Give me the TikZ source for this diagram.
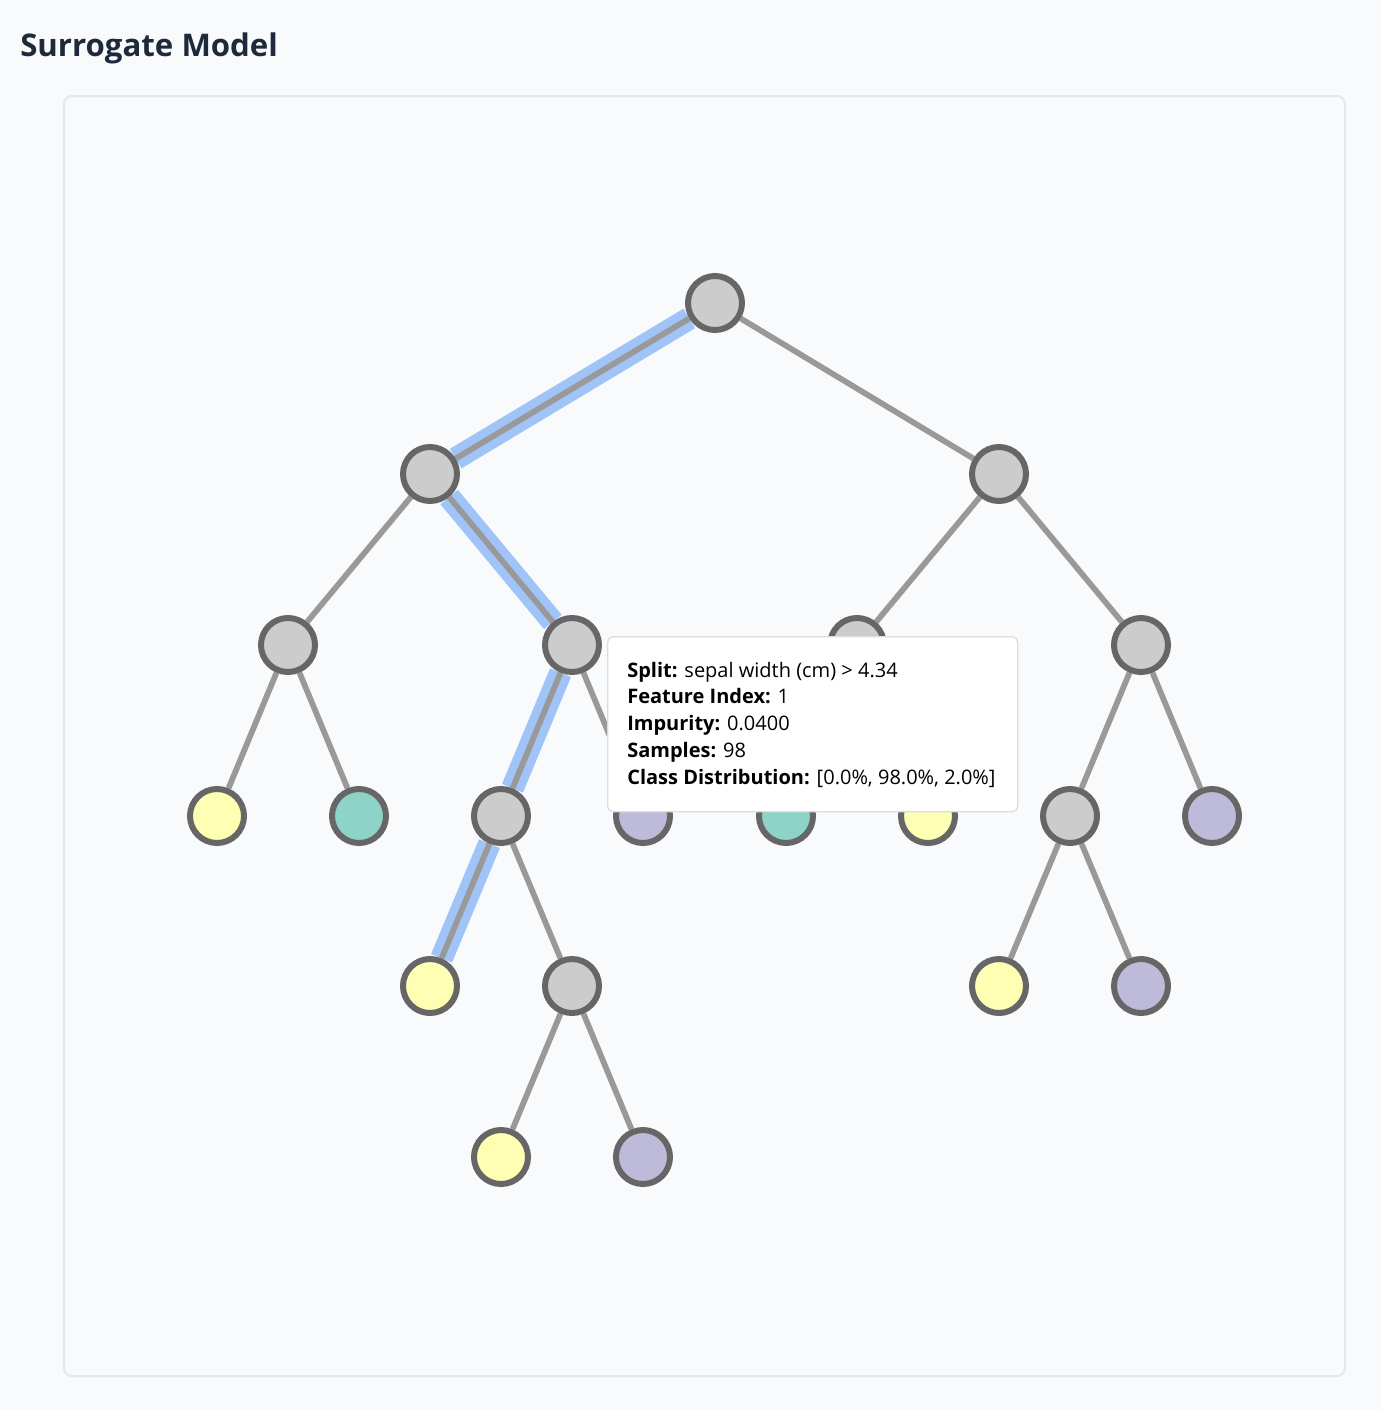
\documentclass[tikz,border=0pt]{standalone}
\usepackage{fontspec}
\setmainfont{Open Sans}
\usetikzlibrary{backgrounds}

\definecolor{pagebg}{HTML}{F8FAFC}
\definecolor{panelline}{HTML}{E2E8F0}
\definecolor{titlecol}{HTML}{1E293B}
\definecolor{splitfill}{HTML}{CCCCCC}
\definecolor{nodeline}{HTML}{666666}
\definecolor{branchcol}{HTML}{999999}
\definecolor{pathcol}{HTML}{A0C4F8}
\definecolor{leafyellow}{HTML}{FFFFB3}
\definecolor{leafteal}{HTML}{8DD3C7}
\definecolor{leafpurple}{HTML}{BEBADA}
\definecolor{tipline}{HTML}{DDDDDD}

\tikzset{
	tnode/.style = {circle, draw = nodeline, line width = 4.5pt, minimum size = 40.5pt, inner sep = 0pt, fill = splitfill},
	leafY/.style = {tnode, fill = leafyellow},
	leafT/.style = {tnode, fill = leafteal},
	leafP/.style = {tnode, fill = leafpurple},
	branch/.style = {draw = branchcol, line width = 4.3pt},
	hilite/.style = {draw = pathcol, line width = 17pt},
	tipbox/.style = {draw = tipline, line width = 1pt, fill = white, rounded corners = 4pt, anchor = north west, minimum width = 307.5pt, minimum height = 131.25pt, inner sep = 0pt},
	tiptext/.style = {anchor = base west, inner sep = 0pt, font = \fontsize{15pt}{20pt}\selectfont}
}

\begin{document}
\begin{tikzpicture}[x = 0.75pt, y = -0.75pt]

\useasboundingbox (0,0) rectangle (1381,1410);

\node[anchor = base west, inner sep = 0pt, text = titlecol, font = \fontsize{23.4pt}{28pt}\selectfont\bfseries] (Title) at (20,56) {Surrogate Model};

\draw[panelline, line width = 1.5pt, rounded corners = 6pt] (64,96) rectangle (1345,1376);

% split nodes and leaves, level by level
\node[tnode] (Root) at (715,303) {};

\node[tnode] (L) at (430,474) {};
\node[tnode] (R) at (999,474) {};

\node[tnode] (LL) at (288,645) {};
\node[tnode] (LR) at (572,645) {};
\node[tnode] (RL) at (857,645) {};
\node[tnode] (RR) at (1141,645) {};

\node[leafY] (LLL) at (217,816) {};
\node[leafT] (LLR) at (359,816) {};
\node[tnode] (LRL) at (501,816) {};
\node[leafP] (LRR) at (643,816) {};
\node[leafT] (RLL) at (786,816) {};
\node[leafY] (RLR) at (928,816) {};
\node[tnode] (RRL) at (1070,816) {};
\node[leafP] (RRR) at (1212,816) {};

\node[leafY] (LRLL) at (430,986) {};
\node[tnode] (LRLR) at (572,986) {};
\node[leafY] (RRLL) at (999,986) {};
\node[leafP] (RRLR) at (1141,986) {};

\node[leafY] (LRLRL) at (501,1157) {};
\node[leafP] (LRLRR) at (643,1157) {};

\begin{pgfonlayer}{background}
	\fill[pagebg] (0,0) rectangle (1381,1410);

	% decision path
	\foreach \a/\b in {Root/L, L/LR, LR/LRL, LRL/LRLL}
		\draw[hilite] (\a) -- (\b);

	\foreach \a/\b in {Root/L, Root/R, L/LL, L/LR, R/RL, R/RR,
		LL/LLL, LL/LLR, LR/LRL, LR/LRR, RL/RLL, RL/RLR, RR/RRL, RR/RRR,
		LRL/LRLL, LRL/LRLR, RRL/RRLL, RRL/RRLR, LRLR/LRLRL, LRLR/LRLRR}
		\draw[branch] (\a) -- (\b);
\end{pgfonlayer}

% tooltip
\node[tipbox] (Tip) at (607,636) {};

\foreach \lbl/\val [count = \i] in {Split:/sepal width (cm) > 4.34, Feature Index:/1, Impurity:/0.0400, Samples:/98, Class Distribution:/{[0.0\%, 98.0\%, 2.0\%]}}
	\node[tiptext] (Tip\i) at (627, {677 + 26.75*(\i-1)}) {\textbf{\lbl} \val};

\end{tikzpicture}
\end{document}
